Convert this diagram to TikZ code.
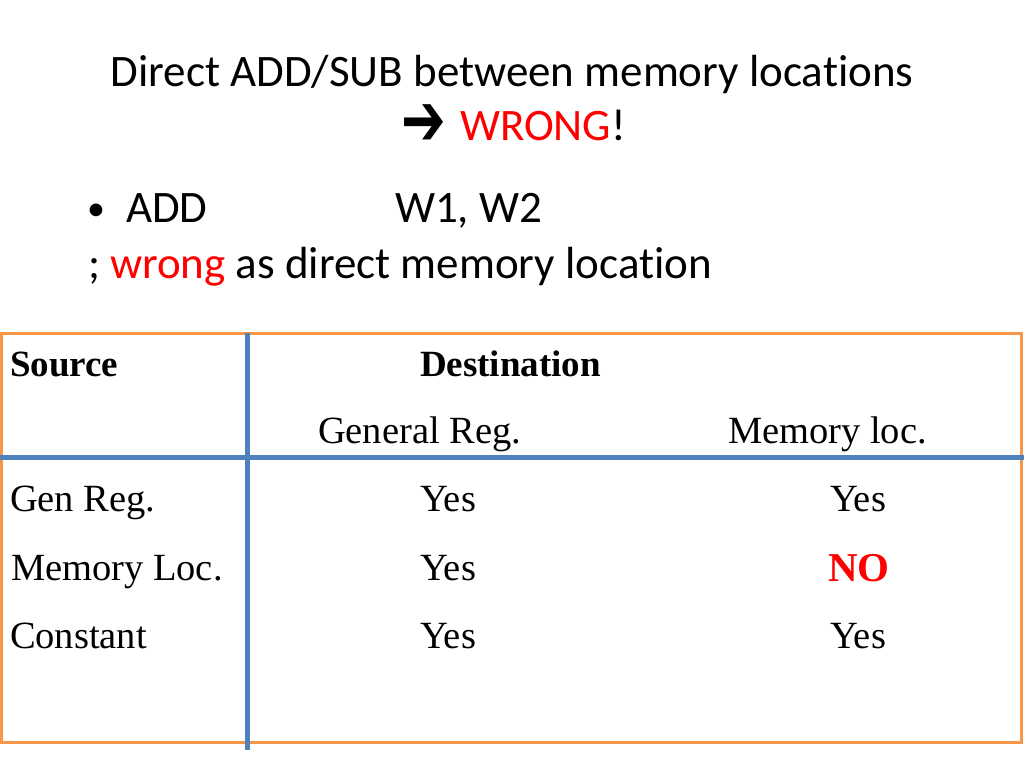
\documentclass[tikz,border=0pt]{standalone}
\usepackage{fontspec}
\setmainfont[Ligatures=NoCommon]{Carlito}
\newfontfamily\tabfont{Liberation Serif}
\newfontfamily\symfont{DejaVu Sans}
\definecolor{tblue}{HTML}{4F81BD}
\definecolor{torange}{HTML}{F79646}
\definecolor{wred}{HTML}{FF0000}
\begin{document}
\begin{tikzpicture}[x=1pt,y=-1pt,
  txt/.style={inner sep=0pt, outer sep=0pt, anchor=base west, font=\fontsize{45}{54}\selectfont},
  cell/.style={inner sep=0pt, outer sep=0pt, anchor=base west, font=\tabfont\fontsize{38.5}{46}\selectfont},
  head/.style={cell, font=\tabfont\bfseries\fontsize{37}{44}\selectfont},
  frame/.style={draw=torange, line width=3pt},
  rule/.style={draw=tblue, line width=5pt}]
\useasboundingbox (0,0) rectangle (1024,768);
\fill[white] (0,0) rectangle (1024,768);
% title
\node[txt, anchor=base] (t1) at (512,86) {Direct ADD/SUB between memory locations};
\node[txt, font=\symfont\fontsize{74}{80}\selectfont] (arr) at (401,145) {\smash{\scalebox{0.72}[1]{➔}}};
\node[txt, text=wred] (wr) at (460,140) {WRONG};
\node[txt] (ex) at (wr.base east) {!};
% bullet
\node[txt, font=\fontsize{36}{44}\selectfont] (bul) at (87,220) {•};
\node[txt] (add) at (126,222) {ADD};
\node[txt] (ops) at (395,222) {W1, W2};
\node[txt] (sc) at (88,278) {;};
\node[txt, text=wred] (wrg) at (110,278) {wrong};
\node[txt] (rest) at (wrg.base east) {\ as direct memory location};
% table lines
\draw[frame] (1,333) rectangle (1021.5,742);
\draw[rule] (0,457) -- (1024,457);
\draw[rule] (247,333) -- (247,750);
% table header
\node[head] (src) at (10,376) {Source};
\node[head] (dst) at (420,376) {Destination};
\node[cell] (gr) at (318,443) {General Reg.};
\node[cell] (ml) at (728,443) {Memory loc.};
% rows
\node[cell] (r1) at (10,511) {Gen Reg.};
\node[cell] (r2) at (11,580) {Memory Loc.};
\node[cell] (r3) at (10,648) {Constant};
\node[cell] (a1) at (420,511) {Yes};
\node[cell] (a2) at (420,580) {Yes};
\node[cell] (a3) at (420,648) {Yes};
\node[cell] (b1) at (830,511) {Yes};
\node[head, text=wred, font=\tabfont\bfseries\fontsize{41}{48}\selectfont] (b2) at (828,581) {NO};
\node[cell] (b3) at (830,648) {Yes};
\end{tikzpicture}
\end{document}
